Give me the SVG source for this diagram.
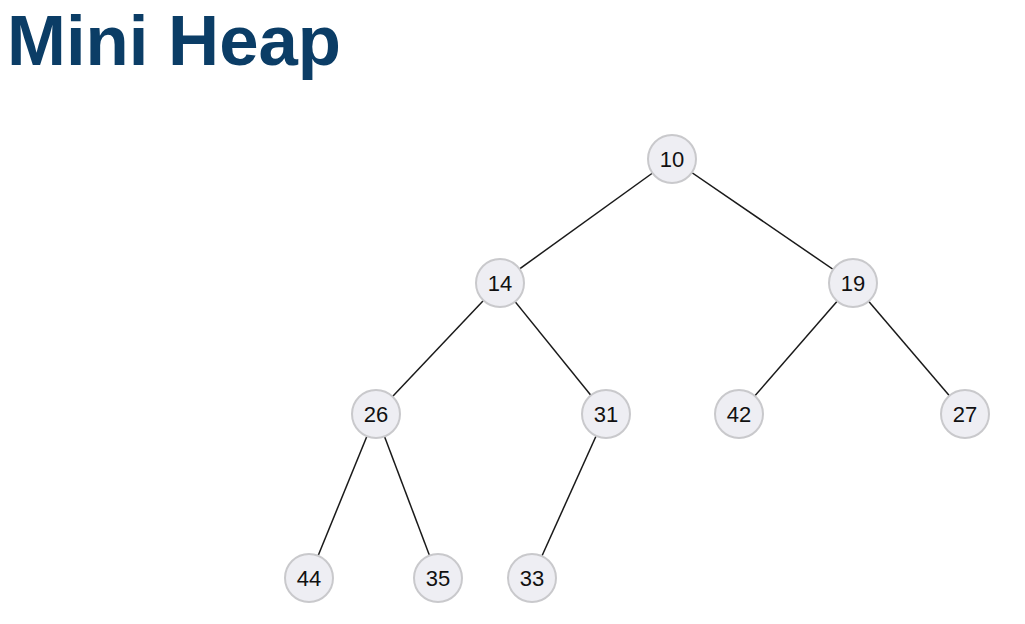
<svg xmlns="http://www.w3.org/2000/svg" width="1025" height="624" viewBox="0 0 1025 624">
<style>
.title{font-family:"Liberation Sans",Arial,sans-serif;font-weight:bold;font-size:71px;fill:#0b3d66}
.n circle{fill:#eeeef3;stroke:#c9c9cc;stroke-width:2}
.n text{font-family:"Liberation Sans",Arial,sans-serif;font-size:22px;fill:#111;text-anchor:middle;dominant-baseline:central}
.e line{stroke:#1a1a1a;stroke-width:1.5}
</style>
<rect width="1025" height="624" fill="#fff"/>
<text class="title" x="7" y="65" textLength="334" lengthAdjust="spacingAndGlyphs">Mini Heap</text>
<g class="e" id="connectors">
<line x1="672" y1="159" x2="500" y2="283"/>
<line x1="672" y1="159" x2="853" y2="283"/>
<line x1="500" y1="283" x2="376" y2="414"/>
<line x1="500" y1="283" x2="606" y2="414"/>
<line x1="853" y1="283" x2="739" y2="414"/>
<line x1="853" y1="283" x2="965" y2="414"/>
<line x1="376" y1="414" x2="309" y2="578"/>
<line x1="376" y1="414" x2="438" y2="578"/>
<line x1="606" y1="414" x2="532" y2="578"/>
</g>
<g class="n" id="n10"><circle cx="672" cy="159" r="24"/><text x="672" y="159">10</text></g>
<g class="n" id="n14"><circle cx="500" cy="283" r="24"/><text x="500" y="283">14</text></g>
<g class="n" id="n19"><circle cx="853" cy="283" r="24"/><text x="853" y="283">19</text></g>
<g class="n" id="n26"><circle cx="376" cy="414" r="24"/><text x="376" y="414">26</text></g>
<g class="n" id="n31"><circle cx="606" cy="414" r="24"/><text x="606" y="414">31</text></g>
<g class="n" id="n42"><circle cx="739" cy="414" r="24"/><text x="739" y="414">42</text></g>
<g class="n" id="n27"><circle cx="965" cy="414" r="24"/><text x="965" y="414">27</text></g>
<g class="n" id="n44"><circle cx="309" cy="578" r="24"/><text x="309" y="578">44</text></g>
<g class="n" id="n35"><circle cx="438" cy="578" r="24"/><text x="438" y="578">35</text></g>
<g class="n" id="n33"><circle cx="532" cy="578" r="24"/><text x="532" y="578">33</text></g>
</svg>
